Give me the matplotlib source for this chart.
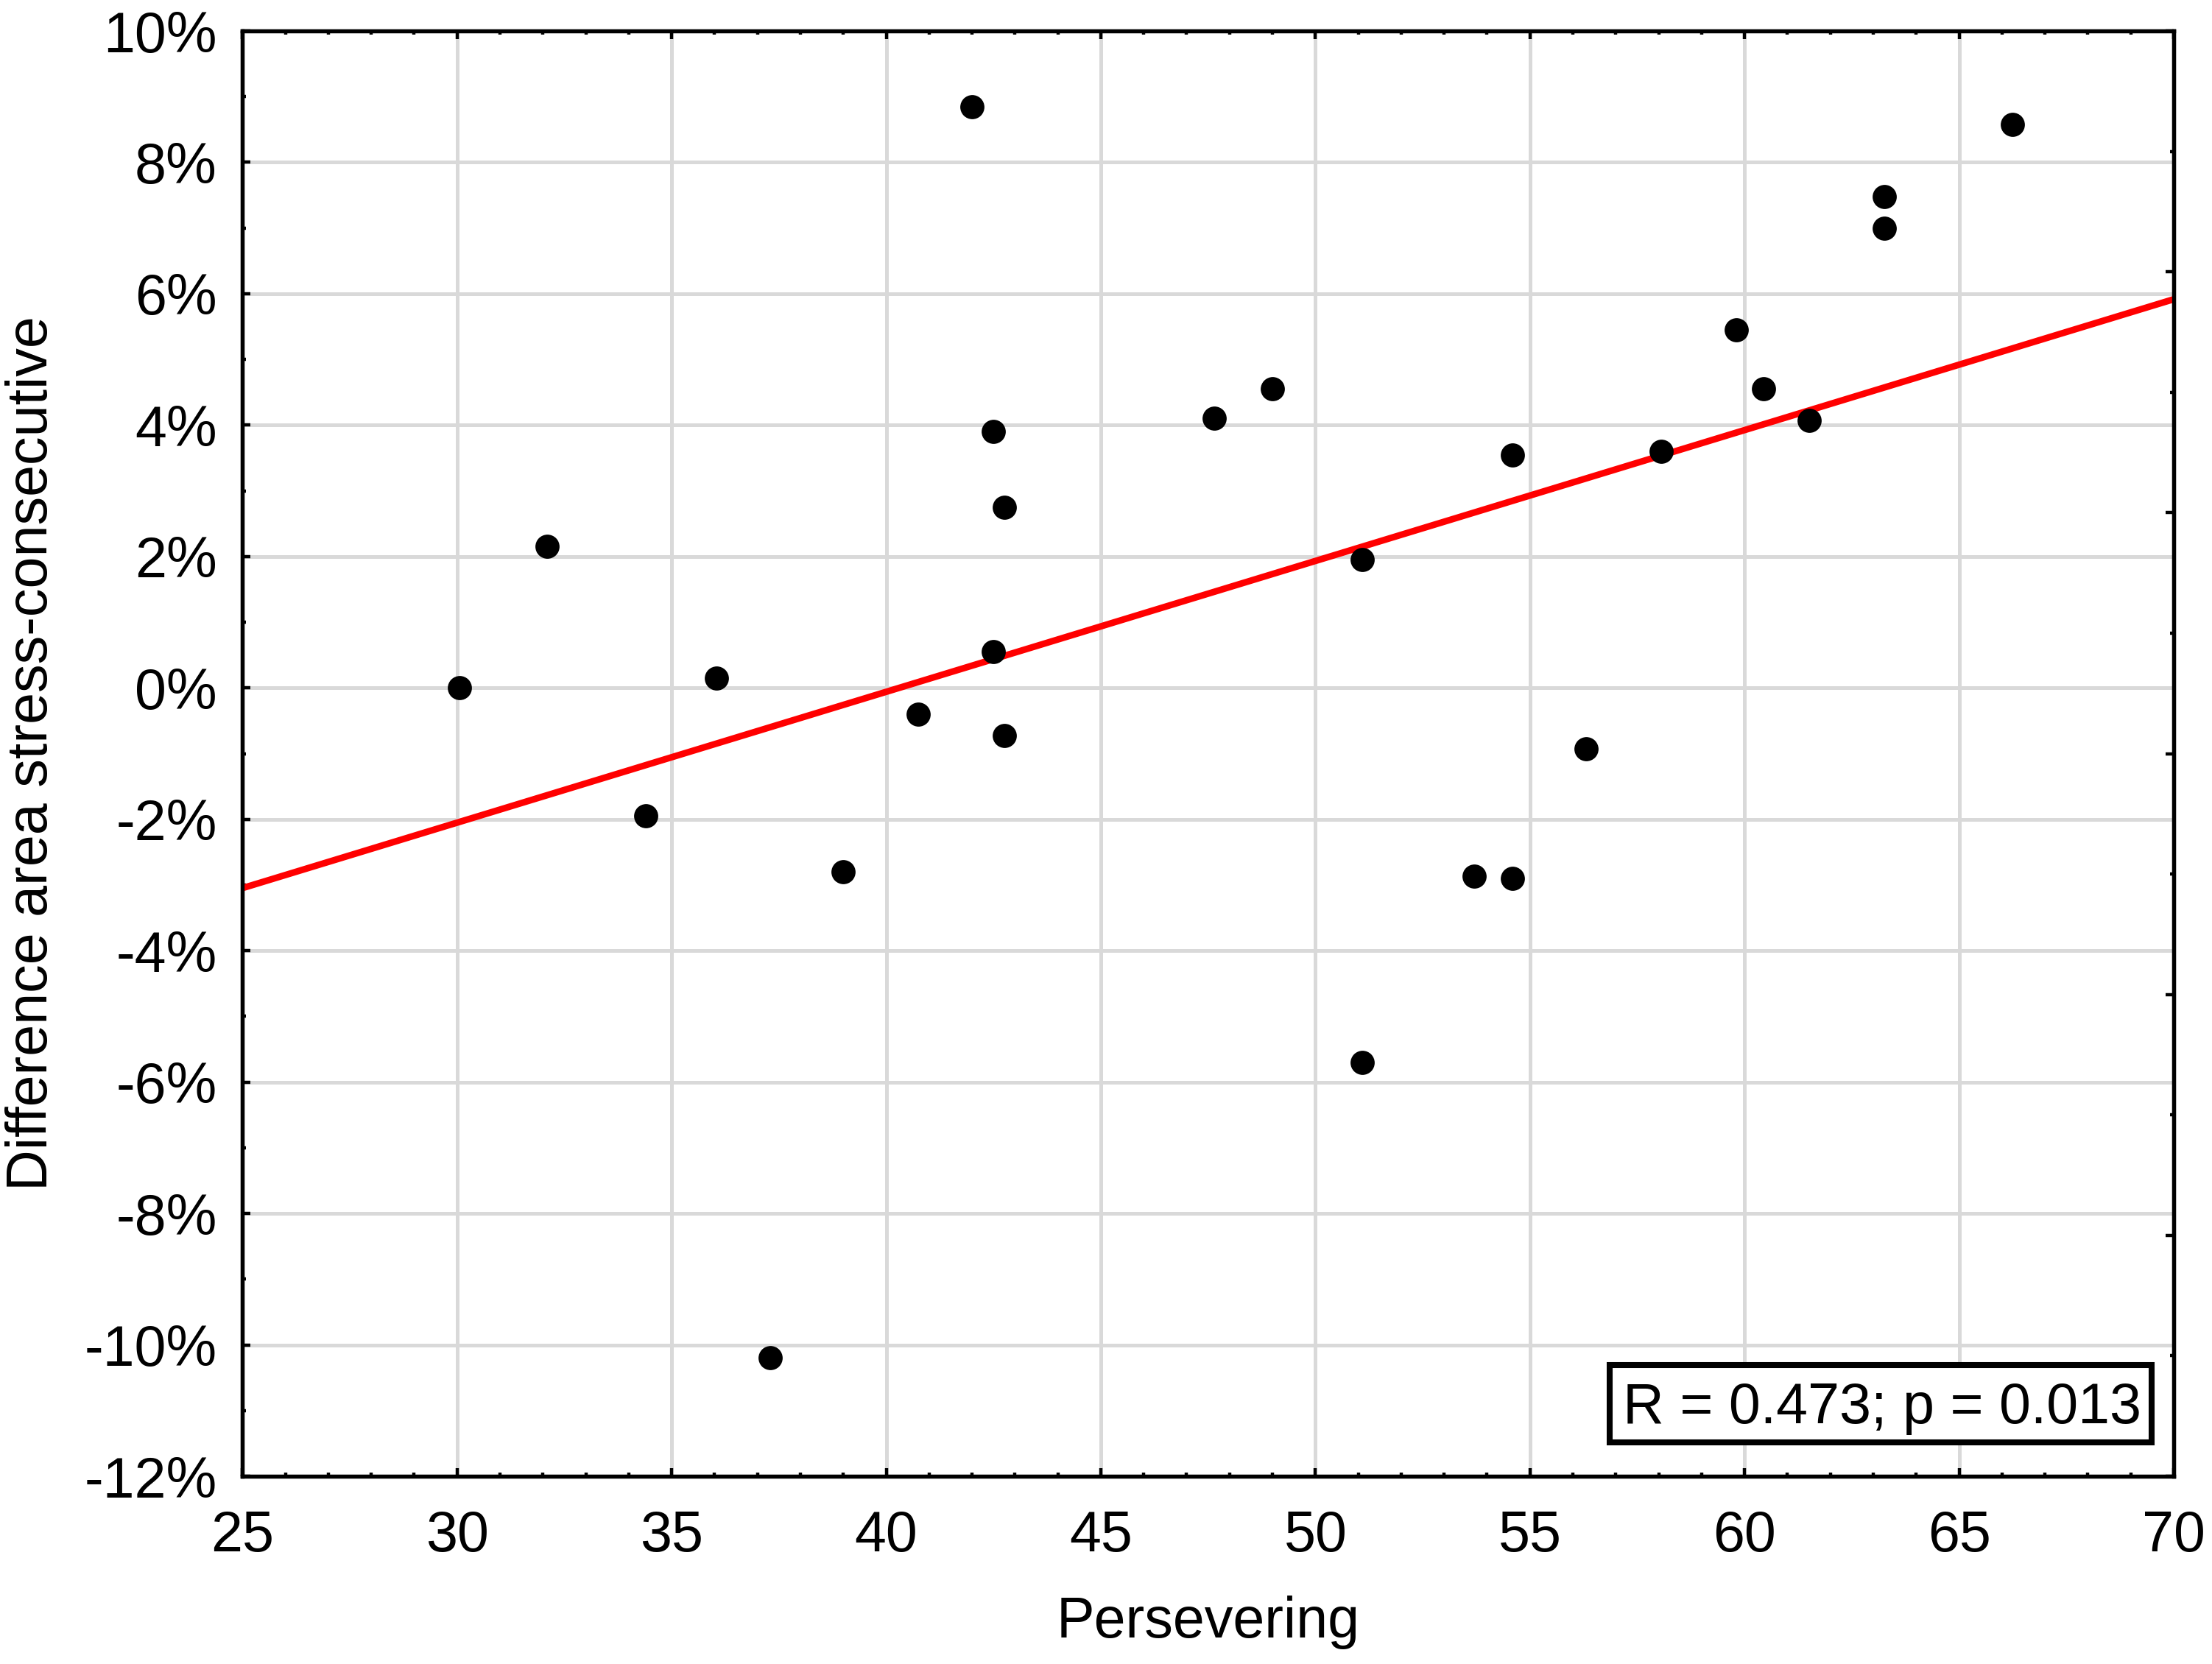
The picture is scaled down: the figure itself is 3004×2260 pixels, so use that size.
import numpy as np
import matplotlib
matplotlib.use("Agg")
import matplotlib.pyplot as plt
from matplotlib.patches import Rectangle
from matplotlib.ticker import MultipleLocator, FuncFormatter

plt.rcParams['font.family'] = ['Liberation Sans', 'DejaVu Sans']

# Data (Persevering score vs difference in area, %)
persevering = [30.05, 32.1, 34.4, 36.05, 37.3, 39.0, 40.75, 42.0, 42.5, 42.75,
               42.5, 42.75, 47.65, 49.0, 51.1, 51.1, 53.7, 54.6, 54.6, 56.3,
               58.05, 59.8, 60.45, 61.5, 63.25, 63.25, 66.25]
difference = [0.0, 2.15, -1.95, 0.15, -10.2, -2.8, -0.4, 8.85, 3.9, 2.75,
              0.55, -0.72, 4.1, 4.55, 1.95, -5.7, -2.87, -2.9, 3.55, -0.93,
              3.6, 5.45, 4.55, 4.07, 7.48, 7.0, 8.58]
annotation = "R = 0.473; p = 0.013"
x_label = "Persevering"
y_label = "Difference area stress-consecutive"

FS = 27.8

x = np.array(persevering)
y = np.array(difference)
slope, intercept = np.polyfit(x, y, 1)

fig = plt.figure(figsize=(15.02, 11.3), dpi=200)
ax = fig.add_axes([0.1096, 0.1128, 0.8731, 0.8686])

ax.set_xlim(25, 70)
ax.set_ylim(-12, 10)

# grid
ax.grid(True, which='major', color='#d9d9d9', linewidth=1.8, zorder=0)
ax.set_axisbelow(True)

# regression line
xl = np.array([25, 70])
ax.plot(xl, intercept + slope * xl, color='#ff0000', linewidth=3.2, zorder=3,
        solid_capstyle='butt')

# points
ax.plot(x, y, linestyle='none', marker='o', markersize=11.8, color='black',
        markeredgewidth=0, zorder=4)

# ticks
ax.xaxis.set_major_locator(MultipleLocator(5))
ax.xaxis.set_minor_locator(MultipleLocator(1))
ax.yaxis.set_major_locator(MultipleLocator(2))
ax.yaxis.set_minor_locator(MultipleLocator(1))
ax.yaxis.set_major_formatter(FuncFormatter(lambda v, p: f"{v:.0f}%"))
ax.tick_params(which='both', direction='in', top=True, right=False,
               labelsize=FS, width=1.6, color='black')
ax.tick_params(which='major', length=4.0)
ax.tick_params(which='minor', length=1.8)
ax.tick_params(axis='x', which='major', pad=16)
ax.tick_params(axis='y', which='major', pad=12.5)

for s in ax.spines.values():
    s.set_linewidth(1.9)
    s.set_color('black')

# right axis with its own tick spacing (no labels)
ax2 = ax.twinx()
ax2.set_ylim(0, 6)
ax2.yaxis.set_major_locator(MultipleLocator(1))
ax2.yaxis.set_minor_locator(MultipleLocator(0.5))
ax2.tick_params(which='both', direction='in', labelright=False, width=1.6)
ax2.tick_params(which='major', length=4.0)
ax2.tick_params(which='minor', length=1.8)
for s in ax2.spines.values():
    s.set_linewidth(1.9)

ax.set_xlabel(x_label, fontsize=FS, va='center')
ax.xaxis.set_label_coords(0.5, -0.101)
ax.set_ylabel(y_label, fontsize=FS, va='center')
ax.yaxis.set_label_coords(-0.109, 0.5)

# annotation box
ax2.add_patch(Rectangle((0.708, 0.0234), 0.9886 - 0.708, 0.0769 - 0.0234,
                        transform=ax.transAxes, fill=True, facecolor='white',
                        edgecolor='black', linewidth=2.9, zorder=5))
ax2.text(0.849, 0.0367, annotation, transform=ax.transAxes, ha='center',
         va='baseline', fontsize=FS, zorder=6)

fig.savefig("out.png", dpi=200)
